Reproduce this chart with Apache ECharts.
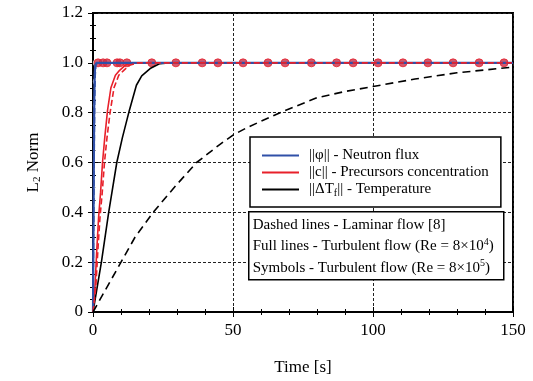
<!DOCTYPE html>
<html>
<head>
<meta charset="utf-8">
<script src="https://cdn.jsdelivr.net/npm/echarts@6/dist/echarts.min.js"></script>
<style>html,body{margin:0;padding:0;background:#fff;}#c{width:533px;height:381px;}</style>
</head>
<body>
<div id="c"></div>
<script>
// ---- data ----
const xTicks = [0, 50, 100, 150];
const yTicks = [0, 0.2, 0.4, 0.6, 0.8, 1.0, 1.2];

const blueSolidT = [0, 0.15, 0.3, 0.45, 0.6, 0.8, 1.2, 150];
const blueSolidV = [0, 0.3, 0.6, 0.85, 0.95, 0.99, 1, 1];
const blueDashT  = [0, 0.2, 0.4, 0.6, 0.8, 1.0, 1.5, 150];
const blueDashV  = [0, 0.3, 0.6, 0.85, 0.95, 0.99, 1, 1];

const redSolidT = [0, 0.7, 1.4, 2.0, 2.7, 3.4, 4.2, 5.2, 6.4, 8, 9.5, 11.5, 14, 150];
const redSolidV = [0, 0.1, 0.26, 0.38, 0.48, 0.6, 0.7, 0.81, 0.9, 0.95, 0.97, 0.99, 1, 1];
const redDashT  = [0, 1, 1.8, 2.5, 3.3, 4.1, 5, 6.1, 7.5, 9.2, 11, 13, 16, 150];
const redDashV  = [0, 0.1, 0.26, 0.38, 0.48, 0.6, 0.7, 0.8, 0.9, 0.95, 0.97, 0.99, 1, 1];

const blackSolidT = [0, 3, 5.6, 8.5, 10.5, 13, 15.5, 17.4, 20.4, 23.9, 27, 150];
const blackSolidV = [0, 0.2, 0.4, 0.6, 0.7, 0.81, 0.91, 0.948, 0.977, 0.997, 1, 1];
const blackDashT  = [0, 5, 10, 15, 21.5, 29, 37, 45, 50, 55, 66.8, 80, 90, 100, 115, 130, 150];
const blackDashV  = [0, 0.1, 0.2, 0.3, 0.4, 0.5, 0.6, 0.67, 0.71, 0.74, 0.8, 0.86, 0.885, 0.905, 0.935, 0.96, 0.983];

const redEarlyT = [1.55, 1.55, 1.55, 1.55, 1.55];
const redEarlyV = [0.5, 0.69, 0.83, 0.925, 1.0];
const blackEarlyT = [2.0, 2.0, 2.0, 2.0, 2.0];
const blackEarlyV = [0.46, 0.66, 0.80, 0.90, 0.97];
const symT = [1.8, 3.6, 5.0, 8.6, 9.6, 12.1, 21, 29.6, 39, 44.6, 53.6, 62.5, 68.6, 78, 87, 92.9, 101.8, 110.7, 119.6, 128.6, 137.9, 146.8];
const symV = symT.map(() => 1.0);

const legendNames = ['||φ|| - Neutron flux', '||c|| - Precursors concentration', '||ΔT_f|| - Temperature'];
const noteLines = ['Dashed lines - Laminar flow [8]', 'Full lines - Turbulent flow (Re = 8×10', 'Symbols - Turbulent flow (Re = 8×10'];
const noteSups = ['', '4', '5'];

const zip = (t, v) => t.map((x, i) => [x, v[i]]);

const FONT = 'Liberation Serif';
const BLUE = '#3050a8';
const RED = '#e8202a';
const CRIM = '#c8304a';

const chart = echarts.init(document.getElementById('c'), null, {renderer: 'canvas'});

const lineSeries = (name, data, color, width, type, z) => ({
  name: name, type: 'line', data: data, showSymbol: false, symbol: 'none',
  lineStyle: {color: color, width: width, type: type}, itemStyle: {color: color},
  z: z, silent: true, animation: false
});

const gridDash = {color: '#222', width: 1, type: [3, 2]};

const option = {
  animation: false,
  backgroundColor: '#fff',
  grid: {left: 93, right: 20, top: 13, bottom: 68, show: true, borderColor: '#000', borderWidth: 2, backgroundColor: 'transparent'},
  xAxis: [{
    type: 'value', min: xTicks[0], max: xTicks[xTicks.length - 1], interval: 50,
    name: 'Time [s]', nameLocation: 'middle', nameGap: 47,
    nameTextStyle: {fontFamily: FONT, fontSize: 17, color: '#000'},
    axisLine: {show: true, lineStyle: {color: '#000', width: 2}},
    axisTick: {show: true, inside: true, length: 5, lineStyle: {color: '#000'}},
    minorTick: {show: true, splitNumber: 5, length: 3, lineStyle: {color: '#000'}},
    axisLabel: {fontFamily: FONT, fontSize: 17, color: '#000', margin: 10},
    splitLine: {show: true, lineStyle: gridDash}
  }, {
    type: 'value', position: 'top', min: xTicks[0], max: xTicks[xTicks.length - 1], interval: 50,
    axisLine: {show: true, lineStyle: {color: '#000', width: 2}},
    axisTick: {show: true, inside: true, length: 5, lineStyle: {color: '#000'}},
    minorTick: {show: true, splitNumber: 5, length: 3, lineStyle: {color: '#000'}},
    axisLabel: {show: false}, splitLine: {show: false}
  }],
  yAxis: [{
    type: 'value', min: yTicks[0], max: yTicks[yTicks.length - 1], interval: 0.2,
    name: '{a|L}{s|2}{a| Norm}', nameLocation: 'middle', nameGap: 50,
    nameTextStyle: {fontFamily: FONT, fontSize: 17, color: '#000',
      rich: {a: {fontFamily: FONT, fontSize: 17, color: '#000'}, s: {fontFamily: FONT, fontSize: 11, color: '#000', verticalAlign: 'bottom', padding: [8, 0, 0, 0]}}},
    axisLine: {show: true, lineStyle: {color: '#000', width: 2}},
    axisTick: {show: true, inside: true, length: 5, lineStyle: {color: '#000'}},
    minorTick: {show: true, splitNumber: 4, length: 3, lineStyle: {color: '#000'}},
    axisLabel: {fontFamily: FONT, fontSize: 17, color: '#000', margin: 10,
      formatter: v => (v === 0 ? '0' : v.toFixed(1))},
    splitLine: {show: true, lineStyle: gridDash}
  }, {
    type: 'value', position: 'right', min: yTicks[0], max: yTicks[yTicks.length - 1], interval: 0.2,
    axisLine: {show: true, lineStyle: {color: '#000', width: 2}},
    axisTick: {show: true, inside: true, length: 5, lineStyle: {color: '#000'}},
    minorTick: {show: true, splitNumber: 4, length: 3, lineStyle: {color: '#000'}},
    axisLabel: {show: false}, splitLine: {show: false}
  }],
  legend: {
    data: legendNames,
    orient: 'vertical', left: 250, top: 137,
    backgroundColor: '#fff', borderColor: '#000', borderWidth: 1.5,
    padding: [10, 12, 9, 12], itemGap: 0,
    icon: 'rect', itemWidth: 37, itemHeight: 2,
    selectedMode: false,
    textStyle: {fontFamily: FONT, fontSize: 15, color: '#000', lineHeight: 17,
      rich: {n: {fontFamily: FONT, fontSize: 15, color: '#000', lineHeight: 17, padding: [0, 0, 0, 5]},
             m: {fontFamily: FONT, fontSize: 15, color: '#000', lineHeight: 17},
             sub: {fontFamily: FONT, fontSize: 10, color: '#000', verticalAlign: 'bottom', padding: [7, 0, 0, 0], lineHeight: 17}}},
    formatter: name => {
      if (name.indexOf('ΔT_f') >= 0) return '{n|||ΔT}{sub|f}{m||| - Temperature}';
      return '{n|' + name + '}';
    }
  },
  graphic: [{
    type: 'group', left: 248, top: 211, z: 100,
    children: [
      {type: 'rect', z: 100, shape: {x: 0, y: 0, width: 255, height: 68}, style: {fill: '#fff', stroke: '#000', lineWidth: 1.5}},
      ...noteLines.map((t, i) => ({
        type: 'text', z: 101, x: 4, y: 13 + i * 21.5,
        style: {
          text: '{a|' + t + '}' + (noteSups[i] ? '{s|' + noteSups[i] + '}{a|)}' : ''),
          verticalAlign: 'middle',
          rich: {a: {fontFamily: FONT, fontSize: 15, color: '#000', lineHeight: 18},
                 s: {fontFamily: FONT, fontSize: 10, color: '#000', verticalAlign: 'top', lineHeight: 18, padding: [0, 0, 6, 0]}}
        }
      }))
    ]
  }],
  series: [
    {type: 'scatter', data: zip(redEarlyT, redEarlyV), symbol: 'emptyCircle', symbolSize: 7,
     itemStyle: {color: '#fff', borderColor: RED, borderWidth: 1.3}, z: 2, silent: true},
    {type: 'scatter', data: zip(blackEarlyT, blackEarlyV), symbol: 'emptyCircle', symbolSize: 7,
     itemStyle: {color: '#fff', borderColor: '#000', borderWidth: 1.3}, z: 2, silent: true},
    {type: 'scatter', data: zip(symT, symV), symbol: 'circle', symbolSize: 8,
     itemStyle: {color: CRIM, borderColor: RED, borderWidth: 1}, z: 2, silent: true},
    lineSeries(legendNames[2], zip(blackSolidT, blackSolidV), '#000', 1.6, 'solid', 3),
    lineSeries(legendNames[1], zip(redSolidT, redSolidV), RED, 1.6, 'solid', 4),
    lineSeries(legendNames[0], zip(blueSolidT, blueSolidV), BLUE, 2.2, 'solid', 5),
    lineSeries('blue laminar', zip(blueDashT, blueDashV), BLUE, 1.6, [6, 3], 6),
    lineSeries('red laminar', zip(redDashT, redDashV), RED, 1.6, [6, 3], 6),
    lineSeries('black laminar', zip(blackDashT, blackDashV), '#000', 1.6, [8, 5], 6)
  ]
};
chart.setOption(option);
</script>
</body>
</html>
